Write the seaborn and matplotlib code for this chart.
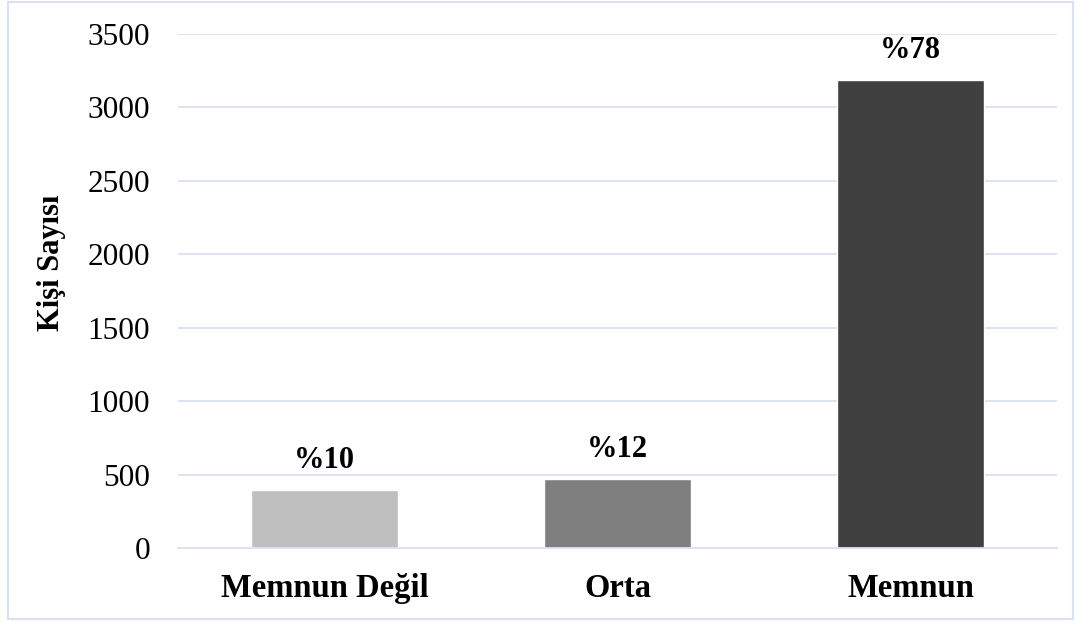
import matplotlib
matplotlib.use("Agg")
import matplotlib.pyplot as plt
import seaborn as sns
import pandas as pd
from matplotlib.patches import Rectangle

categories = ["Memnun Değil", "Orta", "Memnun"]
values = [395, 470, 3185]
labels = ["%10", "%12", "%78"]
colors = ["#bfbfbf", "#7f7f7f", "#404040"]
yticks = [0, 500, 1000, 1500, 2000, 2500, 3000, 3500]

sns.set_theme(style="white")
plt.rcParams["font.family"] = ["Liberation Serif", "DejaVu Serif"]
plt.rcParams["text.color"] = "black"
plt.rcParams["xtick.color"] = "black"
plt.rcParams["ytick.color"] = "black"
plt.rcParams["axes.labelcolor"] = "black"

df = pd.DataFrame({"cat": categories, "val": values})

fig = plt.figure(figsize=(10.75, 6.23), dpi=100)
ax = fig.add_axes([0.1656, 0.1204, 0.8176, 0.825])

sns.barplot(data=df, x="cat", y="val", hue="cat", palette=colors, width=0.5,
            legend=False, ax=ax, saturation=1)

ax.set_ylim(0, 3500)
ax.set_yticks(yticks)
ax.set_yticklabels([str(t) for t in yticks], fontsize=22.5)
ax.set_xlim(-0.5, 2.5)
ax.yaxis.grid(True, color="#d9e1f2", linewidth=1.3)
ax.set_axisbelow(True)
for s in ["top", "right", "left"]:
    ax.spines[s].set_visible(False)
ax.spines["bottom"].set_color("#d9e1f2")
ax.spines["bottom"].set_linewidth(1.3)
ax.tick_params(axis="x", length=0, pad=18)
ax.tick_params(axis="y", length=0, pad=20)
for lab in ax.get_xticklabels():
    lab.set_fontweight("bold")
    lab.set_fontsize(23.5)
ax.set_xlabel("")
ax.set_ylabel("Kişi Sayısı", fontsize=22, fontweight="bold", labelpad=18)
ax.yaxis.set_label_coords(-0.128, 0.554)

for i, (v, t) in enumerate(zip(values, labels)):
    ax.annotate(t, (i, v), xytext=(0, 11), textcoords="offset points",
                ha="center", va="bottom", fontsize=22, fontweight="bold")

fig.patches.append(Rectangle((8/1075, 1-619/623), (1073-8)/1075, (619-2)/623,
                             transform=fig.transFigure, fill=False,
                             edgecolor="#d9e1f2", linewidth=1.5))

fig.savefig("out.png", dpi=100)
